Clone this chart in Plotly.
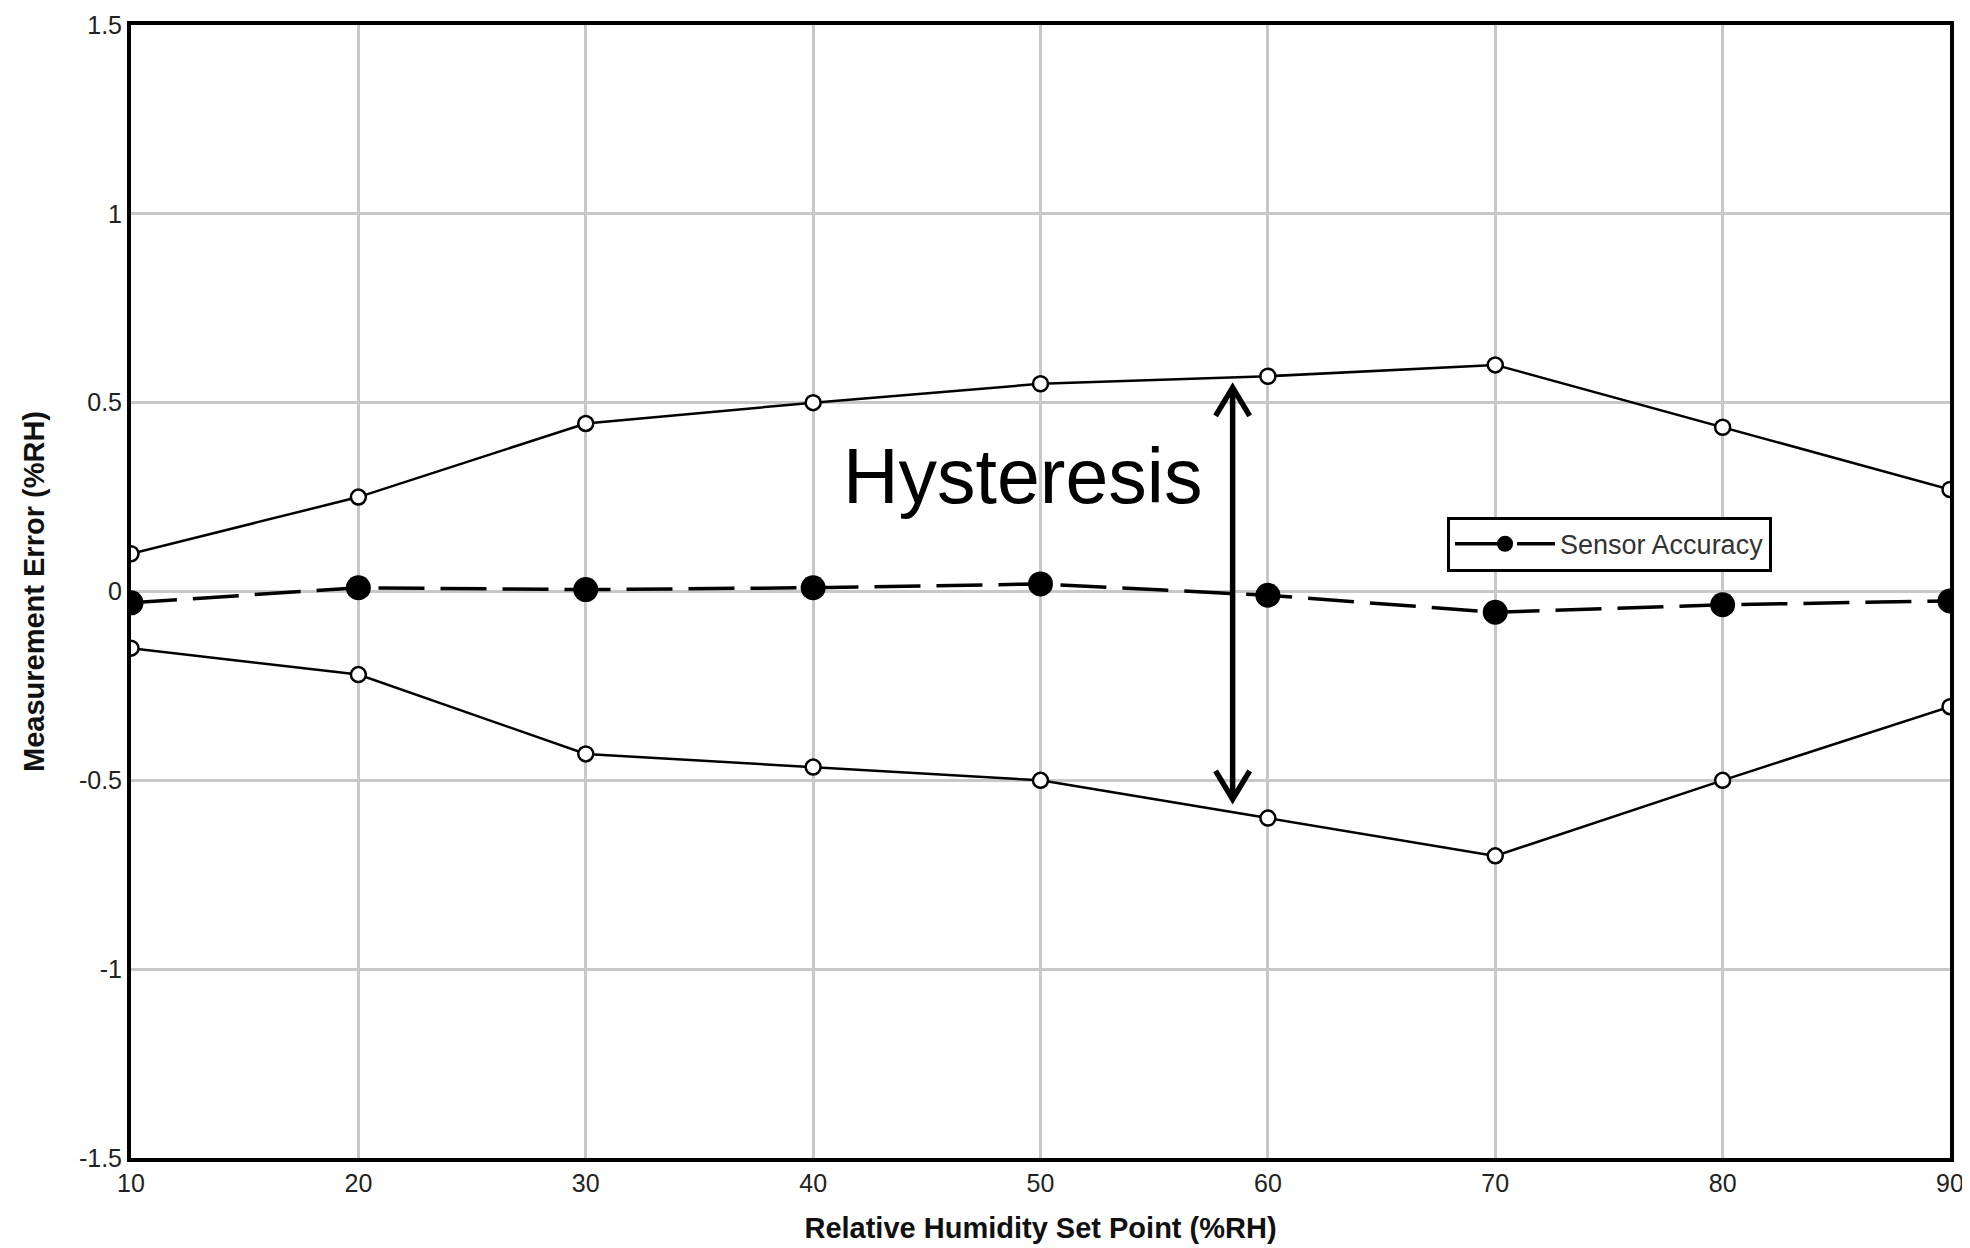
import plotly.graph_objects as go

# ---- data ----
set_points = [10, 20, 30, 40, 50, 60, 70, 80, 90]
upper_error = [0.10, 0.25, 0.445, 0.50, 0.55, 0.57, 0.60, 0.435, 0.27]
lower_error = [-0.15, -0.22, -0.43, -0.465, -0.50, -0.60, -0.70, -0.50, -0.305]
sensor_accuracy = [-0.03, 0.01, 0.005, 0.01, 0.02, -0.01, -0.055, -0.035, -0.025]

x_ticks = [10, 20, 30, 40, 50, 60, 70, 80, 90]
y_ticks = [-1.5, -1.0, -0.5, 0.0, 0.5, 1.0, 1.5]
y_tick_labels = ["-1.5", "-1", "-0.5", "0", "0.5", "1", "1.5"]

# hysteresis arrow (data coords)
arrow_x = 58.45
arrow_top = 0.54
arrow_bottom = -0.55
head_dx = 0.75
head_dy = 0.075

fig = go.Figure()

open_marker = dict(symbol="circle", size=15, color="white", line=dict(color="black", width=2.5))

fig.add_trace(go.Scatter(
    x=set_points, y=upper_error, mode="lines+markers",
    line=dict(color="black", width=2.5), marker=open_marker,
    showlegend=False, hoverinfo="skip"))
fig.add_trace(go.Scatter(
    x=set_points, y=lower_error, mode="lines+markers",
    line=dict(color="black", width=2.5), marker=open_marker,
    showlegend=False, hoverinfo="skip"))
fig.add_trace(go.Scatter(
    x=set_points, y=sensor_accuracy, mode="lines+markers", name="Sensor Accuracy",
    line=dict(color="black", width=3.5, dash="46px,16px"),
    marker=dict(symbol="circle", size=25, color="black"),
    showlegend=True, hoverinfo="skip"))

# arrow shape
path = (f"M {arrow_x},{arrow_top} L {arrow_x},{arrow_bottom} "
        f"M {arrow_x - head_dx},{arrow_top - head_dy} L {arrow_x},{arrow_top} L {arrow_x + head_dx},{arrow_top - head_dy} "
        f"M {arrow_x - head_dx},{arrow_bottom + head_dy} L {arrow_x},{arrow_bottom} L {arrow_x + head_dx},{arrow_bottom + head_dy}")
fig.add_shape(type="path", path=path, xref="x", yref="y",
              line=dict(color="black", width=5.5), layer="above")

fig.add_annotation(x=49.2, y=0.305, xref="x", yref="y", text="Hysteresis",
                   showarrow=False, font=dict(family="Liberation Sans, Arial", size=77, color="black"),
                   xanchor="center", yanchor="middle")

fig.update_layout(
    width=1970, height=1248,
    margin=dict(l=123, r=28, t=17, b=98, autoexpand=False),
    paper_bgcolor="white", plot_bgcolor="white",
    font=dict(family="Liberation Sans, Arial", color="#222"),
    legend=dict(x=0.7235, y=0.566, xanchor="left", yanchor="top",
                bgcolor="white", bordercolor="black", borderwidth=3,
                font=dict(size=27, color="#333"), itemwidth=100,
                tracegroupgap=0),
)
fig.update_xaxes(
    range=[10, 90], tickvals=x_ticks, ticktext=[str(v) for v in x_ticks],
    showgrid=True, gridcolor="#c8c8c8", gridwidth=3, automargin=False,
    ticklabeloverflow="allow",
    showline=True, mirror=True, linecolor="black", linewidth=4,
    zeroline=False, ticks="", tickfont=dict(size=25, color="#222"),
    title=dict(text="<b>Relative Humidity Set Point (%RH)</b>", font=dict(size=29, color="#111"), standoff=23),
)
fig.update_yaxes(
    range=[-1.5, 1.5], tickvals=y_ticks, ticktext=y_tick_labels,
    showgrid=True, gridcolor="#c8c8c8", gridwidth=3, automargin=False,
    ticklabeloverflow="allow",
    showline=True, mirror=True, linecolor="black", linewidth=4,
    zeroline=False, ticks="", tickfont=dict(size=25, color="#222"),
    title=dict(text="<b>Measurement Error (%RH)</b>", font=dict(size=29, color="#111"), standoff=27),
)

fig.write_html("out.html")
